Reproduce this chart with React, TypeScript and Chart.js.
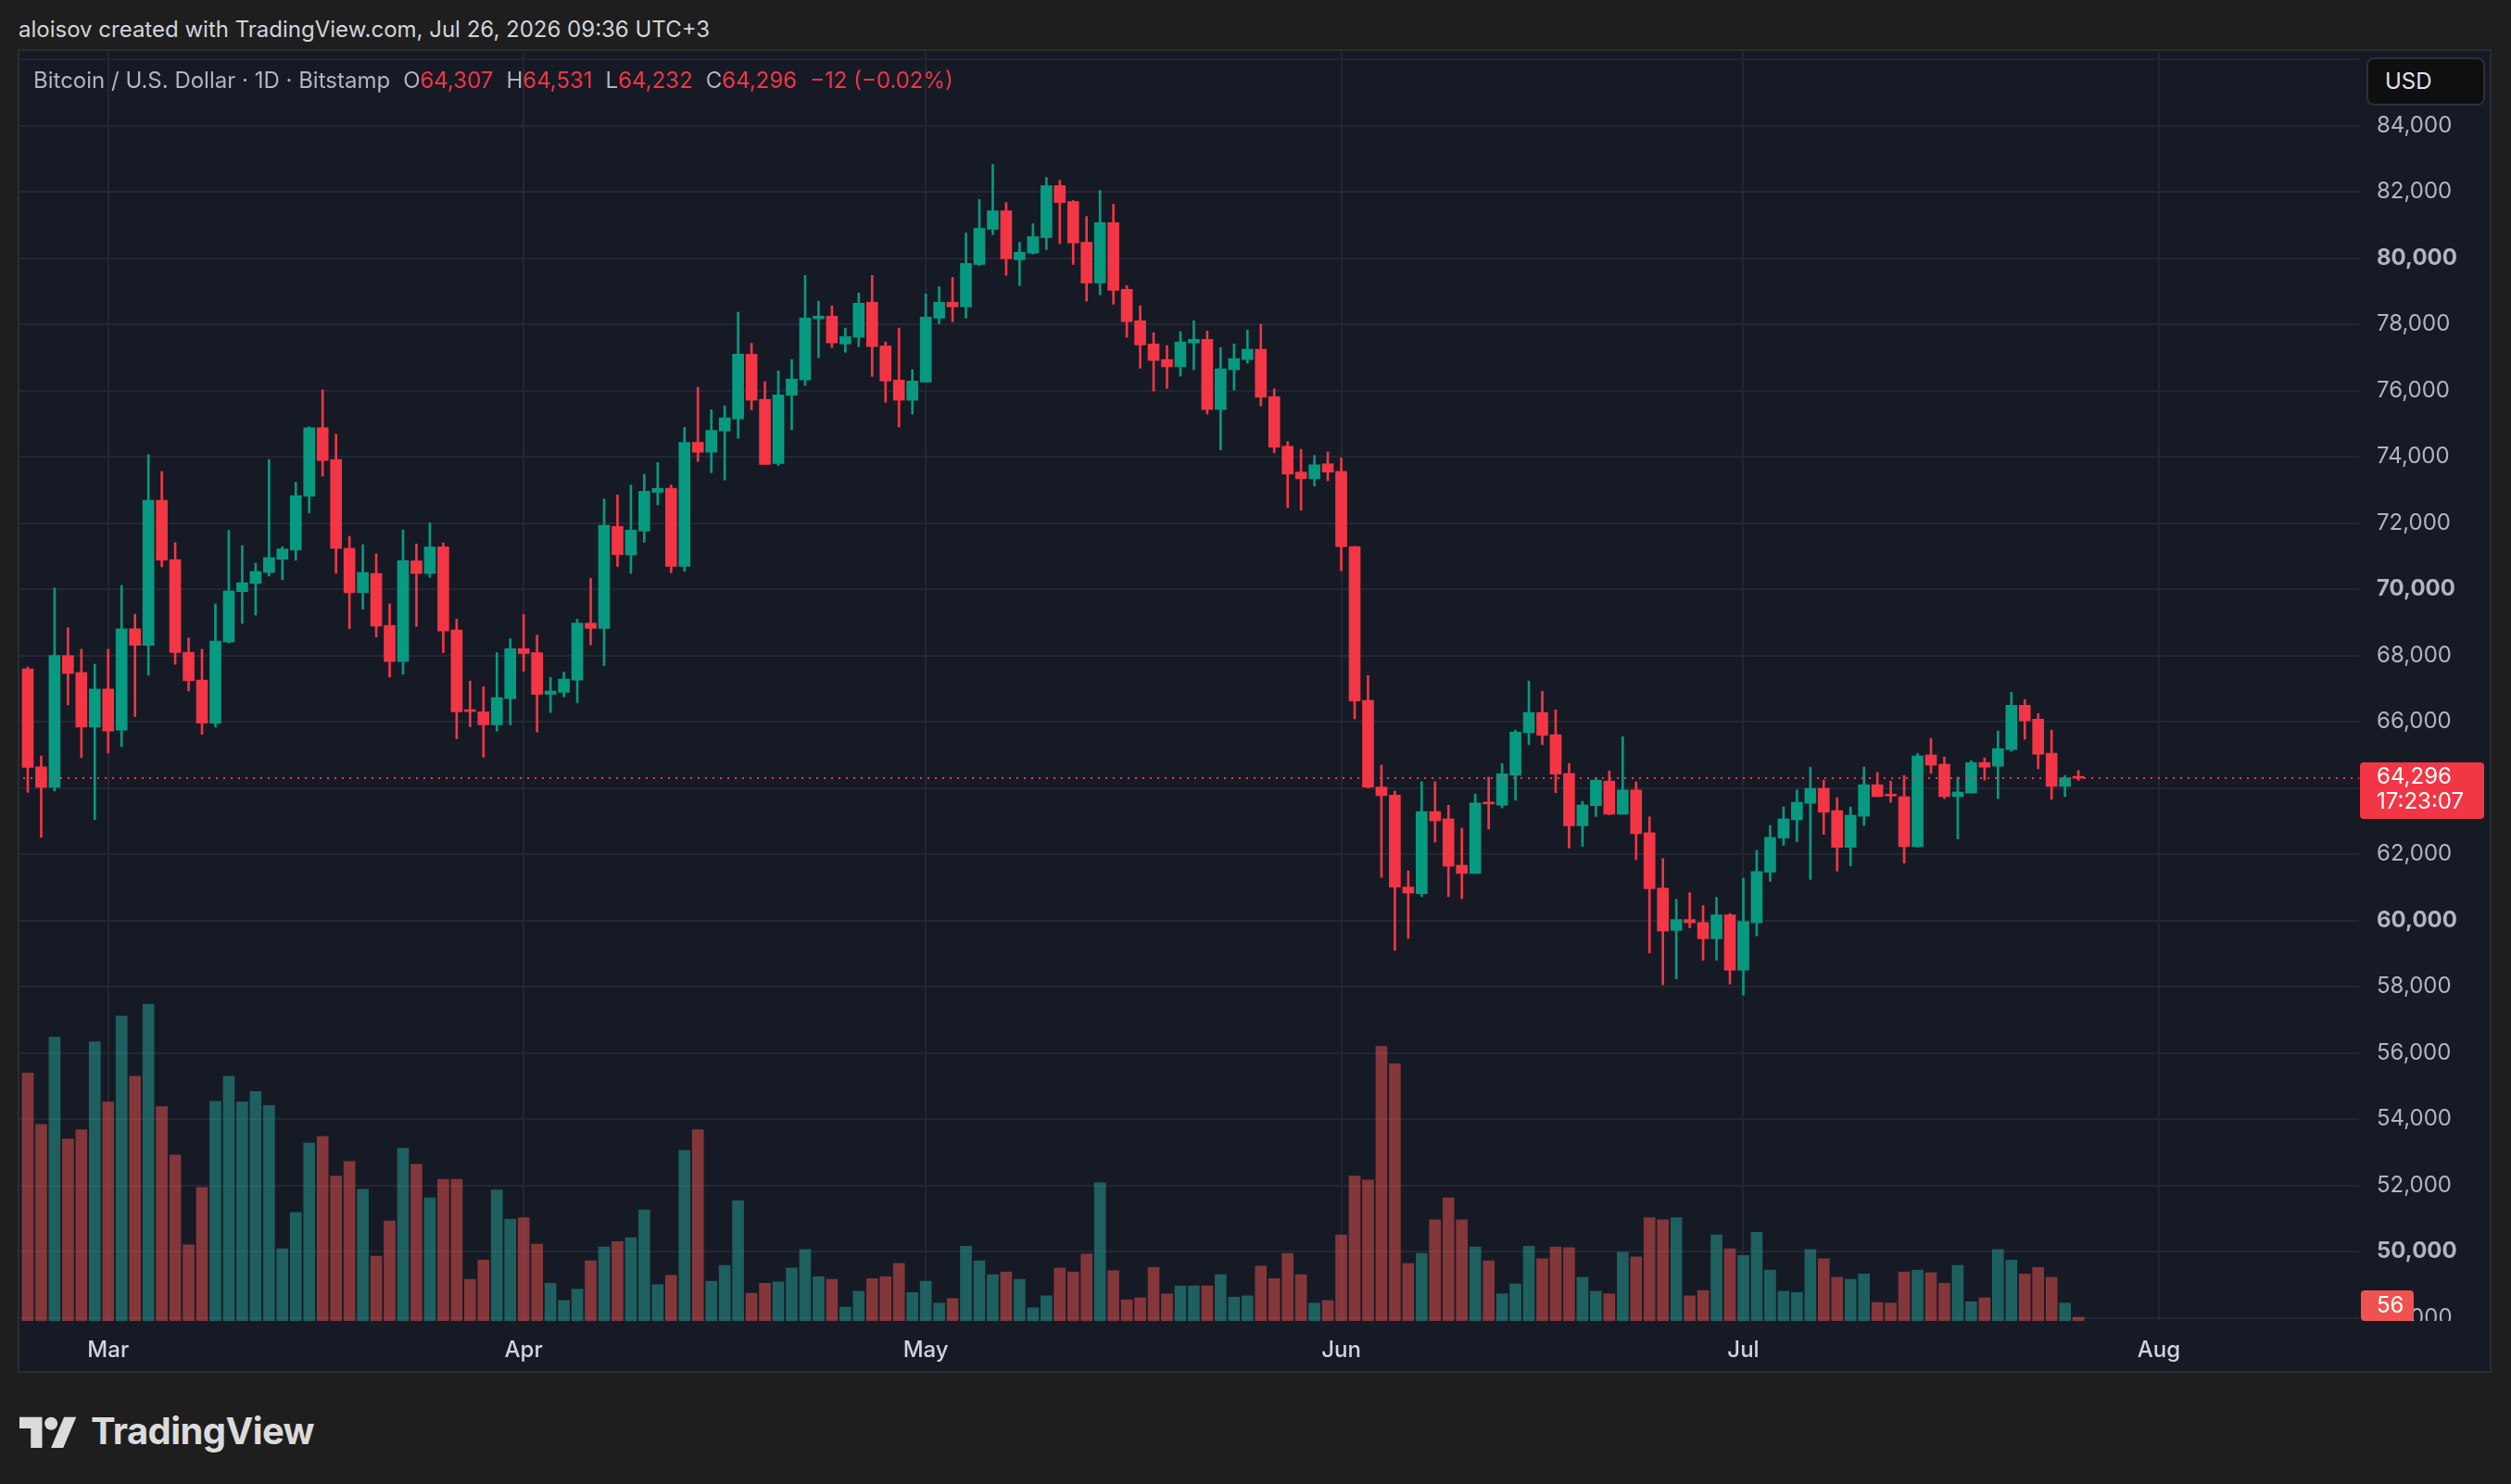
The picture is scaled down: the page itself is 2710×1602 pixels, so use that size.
import React, { useEffect, useRef } from 'react';
import { Chart, registerables } from 'chart.js';

Chart.register(...registerables);

// ---------- data ----------
const START_DATE = '2026-02-23';
const MONTH_TICK_DATES = ['2026-03-01', '2026-04-01', '2026-05-01', '2026-06-01', '2026-07-01', '2026-08-01'];
const MONTH_LABELS = ['Mar', 'Apr', 'May', 'Jun', 'Jul', 'Aug'];
const PRICE_TICKS = [48000, 50000, 52000, 54000, 56000, 58000, 60000, 62000, 64000, 66000, 68000, 70000, 72000, 74000, 76000, 78000, 80000, 82000, 84000, 86000];

const open = [
  67600, 64640, 64020, 68000, 67490, 65840,
  66990, 65750, 68810, 68310, 72690, 70900, 68100, 67260, 65960, 68410, 69930, 70180, 70510, 70910, 71190, 72810, 74880, 73920, 71240, 69900, 70480, 68910, 67820, 70860, 70480, 71280, 68770, 66330, 66300, 65910, 66700,
  68210, 68090, 66830, 66890, 67260, 68980, 68820, 71900, 71040, 71760, 72930, 73050, 70690, 74440, 74140, 74780, 75150, 77100, 75740, 73800, 75860, 76320, 78170, 78250, 77410, 77610, 78670, 77350, 76320, 75710,
  76260, 78190, 78670, 78530, 79810, 80870, 81430, 79950, 80150, 80620, 82190, 81710, 80480, 79250, 81070, 79060, 78110, 77410, 76940, 76720, 77440, 77550, 75430, 76630, 76940, 77250, 75820, 74320, 73540, 73340, 73790,
  73560, 71290, 66650, 64030, 63790, 61010, 60810, 63290, 63070, 61670, 61420, 63570, 63480, 64390, 65670, 66280, 65610, 64440, 62860, 63470, 64210, 63210, 63940, 62650, 60980, 59700, 60030, 59940, 59450, 60170,
  58500, 59930, 61460, 62490, 63040, 63540, 63990, 63320, 62210, 63150, 64100, 63800, 63740, 62230, 65000, 64720, 63740, 63850, 64770, 64660, 65160, 66500, 66080, 65050, 64050, 64307,
];
const high = [
  67660, 64970, 70040, 68840, 68190, 67740,
  68190, 70120, 69250, 74070, 73560, 71410, 68530, 68190, 69560, 71780, 71320, 70790, 73920, 71290, 73230, 74910, 76020, 74680, 71600, 71350, 71070, 69560, 71790, 71370, 72010, 71400, 69100, 67230, 67060, 68090, 68510,
  69240, 68620, 67340, 67500, 69100, 70330, 72730, 72850, 73150, 73470, 73830, 73150, 74890, 76100, 75420, 75540, 78370, 77430, 76270, 76600, 76940, 79480, 78700, 78560, 77890, 78950, 79480, 77470, 77890, 76630,
  78920, 79140, 79420, 80760, 81770, 82830, 81680, 80480, 81040, 82440, 82350, 81740, 81260, 82050, 81630, 79170, 78560, 77750, 77360, 77780, 78110, 77800, 77300, 77410, 77830, 78000, 76050, 74460, 74230, 74040, 74150,
  73970, 71300, 67400, 64690, 63910, 61500, 64190, 64190, 63480, 62790, 63820, 64330, 64740, 65750, 67230, 66920, 66360, 64740, 63600, 64320, 64520, 65550, 64190, 63130, 61870, 60640, 60840, 60450, 60700, 60210,
  61280, 62120, 62870, 63430, 63940, 64630, 64240, 63710, 63430, 64630, 64470, 64210, 64380, 65050, 65500, 64940, 64330, 64830, 64910, 65720, 66890, 66670, 66250, 65750, 64380, 64531,
];
const low = [
  63870, 62510, 63910, 66510, 64920, 63050,
  65060, 65250, 66160, 67410, 70680, 67740, 66930, 65620, 65840, 68380, 68970, 69220, 70400, 70290, 70880, 72310, 73420, 70480, 68810, 69400, 68560, 67350, 67440, 68880, 70360, 68090, 65490, 65850, 64930, 65720, 65910,
  67530, 65690, 66280, 66750, 66580, 68320, 67700, 70690, 70480, 71420, 72550, 70500, 70550, 73860, 73520, 73300, 74560, 75420, 73770, 73740, 74820, 76150, 76990, 77300, 77160, 77330, 76430, 75650, 74900, 75290,
  76260, 78020, 78080, 78190, 79780, 80710, 79480, 79170, 80120, 80260, 80440, 79810, 78700, 78890, 78610, 77610, 76680, 75990, 76070, 76440, 76630, 75290, 74210, 76020, 76830, 75540, 74120, 72470, 72390, 73120, 73280,
  70560, 66090, 64000, 61300, 59100, 59460, 60720, 62370, 60720, 60660, 61420, 62760, 63400, 63630, 65310, 65310, 63860, 62190, 62240, 63140, 63190, 63210, 61840, 59020, 58060, 58240, 59780, 58800, 58800, 58080,
  57750, 59540, 61180, 62270, 62380, 61240, 62600, 61490, 61650, 62870, 63740, 63570, 61730, 62210, 64440, 63680, 62460, 63850, 64240, 63680, 65110, 65470, 64580, 63660, 63740, 64232,
];
const close = [
  64620, 64020, 68000, 67460, 65840, 66990,
  65720, 68810, 68310, 72690, 70880, 68090, 67240, 65960, 68440, 69950, 70200, 70540, 70960, 71220, 72830, 74880, 73890, 71240, 69900, 70510, 68890, 67820, 70870, 70480, 71280, 68740, 66300, 66310, 65910, 66730, 68210,
  68060, 66830, 66930, 67290, 68980, 68820, 71930, 71050, 71790, 72960, 73050, 70690, 74440, 74140, 74800, 75180, 77100, 75710, 73770, 75870, 76350, 78190, 78250, 77440, 77630, 78640, 77330, 76290, 75710, 76290,
  78220, 78670, 78530, 79840, 80900, 81430, 79980, 80180, 80650, 82190, 81680, 80460, 79250, 81070, 79030, 78080, 77380, 76910, 76720, 77470, 77550, 75430, 76660, 76970, 77250, 75800, 74290, 73480, 73340, 73760, 73540,
  71290, 66630, 64030, 63770, 61010, 60830, 63290, 63010, 61640, 61420, 63550, 63520, 64430, 65690, 66280, 65590, 64420, 62860, 63490, 64240, 63210, 63940, 62620, 60960, 59680, 60030, 59930, 59450, 60170, 58500,
  59970, 61480, 62510, 63070, 63570, 63990, 63270, 62210, 63180, 64100, 63740, 63760, 62230, 64970, 64690, 63740, 63880, 64770, 64630, 65190, 66500, 66030, 65020, 64050, 64308, 64296,
];
const volume = [
  3750, 2970, 4290, 2750, 2890, 4220,
  3310, 4610, 3700, 4790, 3240, 2510, 1150, 2020, 3320, 3700, 3310, 3470, 3260, 1090, 1640, 2690, 2790, 2190, 2410, 1990, 980, 1510, 2610, 2370, 1860, 2140, 2140, 630, 920, 1980, 1540,
  1560, 1160, 570, 310, 480, 910, 1120, 1200, 1260, 1680, 550, 690, 2580, 2890, 600, 840, 1820, 420, 570, 590, 800, 1080, 670, 630, 210, 450, 640, 670, 870, 430,
  600, 270, 340, 1130, 910, 700, 740, 630, 200, 380, 800, 740, 1010, 2090, 760, 320, 350, 810, 410, 530, 530, 530, 700, 360, 380, 830, 640, 1020, 700, 270, 310,
  1300, 2190, 2130, 4150, 3890, 870, 1020, 1530, 1860, 1530, 1120, 910, 410, 560, 1130, 940, 1120, 1110, 660, 450, 410, 1040, 970, 1560, 1530, 1560, 380, 460, 1300, 1090,
  990, 1340, 770, 450, 430, 1080, 940, 660, 630, 710, 280, 270, 740, 770, 730, 570, 840, 290, 350, 1080, 920, 710, 810, 660, 270, 56,
];
const COUNTDOWN = '17:23:07';

// ---------- helpers ----------
const DAY = 86400000;
const dayIndex = (d: string) => Math.round((Date.parse(d) - Date.parse(START_DATE)) / DAY);
const dates = open.map((_, i) => new Date(Date.parse(START_DATE) + i * DAY).toISOString().slice(0, 10));
const monthTickValues = MONTH_TICK_DATES.map(dayIndex);
const monthLabelByDay: Record<number, string> = {};
monthTickValues.forEach((v, i) => (monthLabelByDay[v] = MONTH_LABELS[i]));

const GREEN = '#089981';
const RED = '#F23645';
const VOL_GREEN = 'rgba(38,166,154,0.5)';
const VOL_RED = 'rgba(239,83,80,0.5)';
const BG = '#161a25';
const GRID = '#232734';
const AXIS_TEXT = '#b2b5be';
const FONT = 'Inter, "Noto Sans", Roboto, sans-serif';

const CANVAS_W = 2666;
const CANVAS_H = 1425;

const isUp = close.map((c, i) => c >= open[i]);

const overlayPlugin = {
  id: 'tvOverlay',
  afterDatasetsDraw(chart: any) {
    const { ctx, chartArea } = chart;
    const lastClose = close[close.length - 1];
    const y = chart.scales.y.getPixelForValue(lastClose);
    ctx.save();
    ctx.beginPath();
    ctx.rect(chartArea.left, chartArea.top, chartArea.right - chartArea.left, chartArea.bottom - chartArea.top);
    ctx.clip();
    ctx.strokeStyle = RED;
    ctx.lineWidth = 2;
    ctx.setLineDash([2, 6]);
    ctx.beginPath();
    ctx.moveTo(chartArea.left + 4, y);
    ctx.lineTo(chartArea.right, y);
    ctx.stroke();
    ctx.restore();
  },
  afterDraw(chart: any) {
    const { ctx, chartArea } = chart;
    const yScale = chart.scales.y;
    const textX = chartArea.right + 19;
    ctx.save();
    // lowest tick label, clipped by the time scale
    ctx.save();
    ctx.beginPath();
    ctx.rect(chartArea.right, chartArea.top, 200, chartArea.bottom - chartArea.top);
    ctx.clip();
    ctx.fillStyle = AXIS_TEXT;
    ctx.font = `24px ${FONT}`;
    ctx.textBaseline = 'middle';
    ctx.textAlign = 'left';
    ctx.fillText(PRICE_TICKS[0].toLocaleString('en-US'), textX, yScale.getPixelForValue(PRICE_TICKS[0]));
    ctx.restore();

    // last price label
    const lastClose = close[close.length - 1];
    const py = yScale.getPixelForValue(lastClose);
    ctx.fillStyle = RED;
    ctx.beginPath();
    ctx.roundRect(chartArea.right + 1, py - 17, 134, 61, 4);
    ctx.fill();
    ctx.fillStyle = '#ffffff';
    ctx.font = `24px ${FONT}`;
    ctx.textBaseline = 'middle';
    ctx.textAlign = 'left';
    ctx.fillText(lastClose.toLocaleString('en-US'), textX, py - 1);
    ctx.fillText(COUNTDOWN, textX, py + 26);

    // last volume label
    const lastVol = volume[volume.length - 1];
    ctx.fillStyle = '#ef5350';
    ctx.beginPath();
    ctx.roundRect(chartArea.right + 2, chartArea.bottom - 33, 57, 33, 4);
    ctx.fill();
    ctx.fillStyle = '#ffffff';
    ctx.fillText(String(lastVol), textX, chartArea.bottom - 16);
    ctx.restore();
  },
};

export default function App() {
  const canvasRef = useRef<HTMLCanvasElement | null>(null);

  useEffect(() => {
    const canvas = canvasRef.current;
    if (!canvas) return;
    const chart = new Chart(canvas, {
      type: 'bar',
      data: {
        labels: dates,
        datasets: [
          {
            label: 'Body',
            data: open.map((o, i) => ({ x: i, y: [Math.min(o, close[i]), Math.max(o, close[i])] })) as any,
            backgroundColor: isUp.map((u) => (u ? GREEN : RED)),
            barThickness: 12,
            minBarLength: 2,
            grouped: false,
            borderWidth: 0,
            yAxisID: 'y',
            order: 1,
          } as any,
          {
            label: 'Wick',
            data: low.map((l, i) => ({ x: i, y: [l, high[i]] })) as any,
            backgroundColor: isUp.map((u) => (u ? GREEN : RED)),
            barThickness: 2,
            grouped: false,
            borderWidth: 0,
            yAxisID: 'y',
            order: 2,
          } as any,
          {
            label: 'Volume',
            data: volume.map((v, i) => ({ x: i, y: v })) as any,
            backgroundColor: isUp.map((u) => (u ? VOL_GREEN : VOL_RED)),
            barThickness: 12,
            grouped: false,
            borderWidth: 0,
            yAxisID: 'yv',
            order: 3,
          } as any,
        ],
      },
      options: {
        animation: false,
        responsive: false,
        maintainAspectRatio: false,
        events: [],
        layout: { padding: 0, autoPadding: false } as any,
        plugins: { legend: { display: false }, tooltip: { enabled: false }, title: { display: false } },
        scales: {
          x: {
            type: 'linear',
            min: -0.62,
            max: 173.94,
            offset: false,
            afterBuildTicks: (scale: any) => {
              scale.ticks = monthTickValues.map((v) => ({ value: v }));
            },
            afterFit: (scale: any) => {
              scale.height = 54;
              scale.paddingLeft = 0;
              scale.paddingRight = 0;
            },
            grid: { color: GRID, lineWidth: 2, drawTicks: false, offset: false },
            border: { display: false },
            ticks: {
              autoSkip: false,
              maxRotation: 0,
              padding: 17,
              color: '#d1d4dc',
              font: { family: FONT, size: 24, weight: '500' } as any,
              callback: (v: any) => monthLabelByDay[v as number] ?? '',
            },
          } as any,
          y: {
            type: 'linear',
            position: 'right',
            min: 47908,
            max: 86257,
            afterBuildTicks: (scale: any) => {
              scale.ticks = PRICE_TICKS.map((v) => ({ value: v }));
            },
            afterFit: (scale: any) => {
              scale.width = 141;
              scale.paddingTop = 0;
              scale.paddingBottom = 0;
            },
            grid: { color: GRID, lineWidth: 2, drawTicks: false },
            border: { display: false },
            ticks: {
              padding: 19,
              color: AXIS_TEXT,
              crossAlign: 'near',
              font: (c: any) => ({
                family: FONT,
                size: 24,
                weight: c.tick && c.tick.value % 10000 === 0 ? 'bold' : 'normal',
              }),
              callback: (v: any) =>
                v === PRICE_TICKS[0] || v === PRICE_TICKS[PRICE_TICKS.length - 1]
                  ? ''
                  : Number(v).toLocaleString('en-US'),
            },
          } as any,
          yv: {
            type: 'linear',
            display: false,
            min: 0,
            max: 19200,
          } as any,
        },
      },
      plugins: [overlayPlugin as any],
    });
    return () => chart.destroy();
  }, []);

  const legendGroup = (letter: string, value: string) => (
    <span style={{ marginLeft: 14 }}>
      <span style={{ color: '#b2b5be' }}>{letter}</span>
      <span style={{ color: RED }}>{value}</span>
    </span>
  );

  const lastOpen = open[open.length - 1];
  const lastClose = close[close.length - 1];
  const prevClose = close[close.length - 2];
  const change = lastClose - prevClose;
  const changePct = ((change / prevClose) * 100).toFixed(2);
  const fmt = (n: number) => n.toLocaleString('en-US');
  const minus = (s: string) => s.replace('-', '\u2212');

  return (
    <div
      style={{
        position: 'fixed',
        left: 0,
        top: 0,
        width: 2710,
        height: 1602,
        background: '#1e1e1e',
        overflow: 'hidden',
        fontFamily: FONT,
      }}
    >
      <div
        style={{
          position: 'absolute',
          left: 20,
          top: 16,
          fontSize: 24,
          lineHeight: '32px',
          color: '#d1d4dc',
          whiteSpace: 'nowrap',
        }}
      >
        aloisov created with TradingView.com, Jul 26, 2026 09:36 UTC+3
      </div>

      <div
        style={{
          position: 'absolute',
          left: 19,
          top: 53,
          width: CANVAS_W,
          height: CANVAS_H,
          border: '2px solid #2a2d33',
          background: BG,
        }}
      >
        <canvas
          ref={canvasRef}
          width={CANVAS_W}
          height={CANVAS_H}
          style={{ width: CANVAS_W, height: CANVAS_H, display: 'block' }}
        />

        <div
          style={{
            position: 'absolute',
            left: 15,
            top: 16,
            fontSize: 24,
            lineHeight: '32px',
            whiteSpace: 'nowrap',
            color: '#b2b5be',
          }}
        >
          <span>Bitcoin / U.S. Dollar · 1D · Bitstamp</span>
          {legendGroup('O', fmt(lastOpen))}
          {legendGroup('H', fmt(high[high.length - 1]))}
          {legendGroup('L', fmt(low[low.length - 1]))}
          {legendGroup('C', fmt(lastClose))}
          <span style={{ marginLeft: 14, color: RED }}>
            {minus(String(change))} ({minus(changePct)}%)
          </span>
        </div>

        <div
          style={{
            position: 'absolute',
            left: 2533,
            top: 7,
            width: 128,
            height: 52,
            boxSizing: 'border-box',
            background: '#0f0f0f',
            border: '2px solid #2e3036',
            borderRadius: 8,
            color: '#e0e3eb',
            fontSize: 24,
            lineHeight: '48px',
            paddingLeft: 18,
          }}
        >
          USD
        </div>
      </div>

      <div style={{ position: 'absolute', left: 21, top: 1524, display: 'flex', alignItems: 'center' }}>
        <svg width="63" height="35" viewBox="0 0 36 20">
          <path d="M14 20H7V8H0V1h14v19z" fill="#dbdbdb" />
          <circle cx="19.5" cy="5" r="4" fill="#dbdbdb" />
          <path d="M27 20h-7.5L27.5 1H35L27 20z" fill="#dbdbdb" />
        </svg>
        <span
          style={{
            marginLeft: 14,
            fontSize: 40,
            fontWeight: 700,
            color: '#dbdbdb',
            letterSpacing: -0.6,
            lineHeight: '42px',
          }}
        >
          TradingView
        </span>
      </div>
    </div>
  );
}
